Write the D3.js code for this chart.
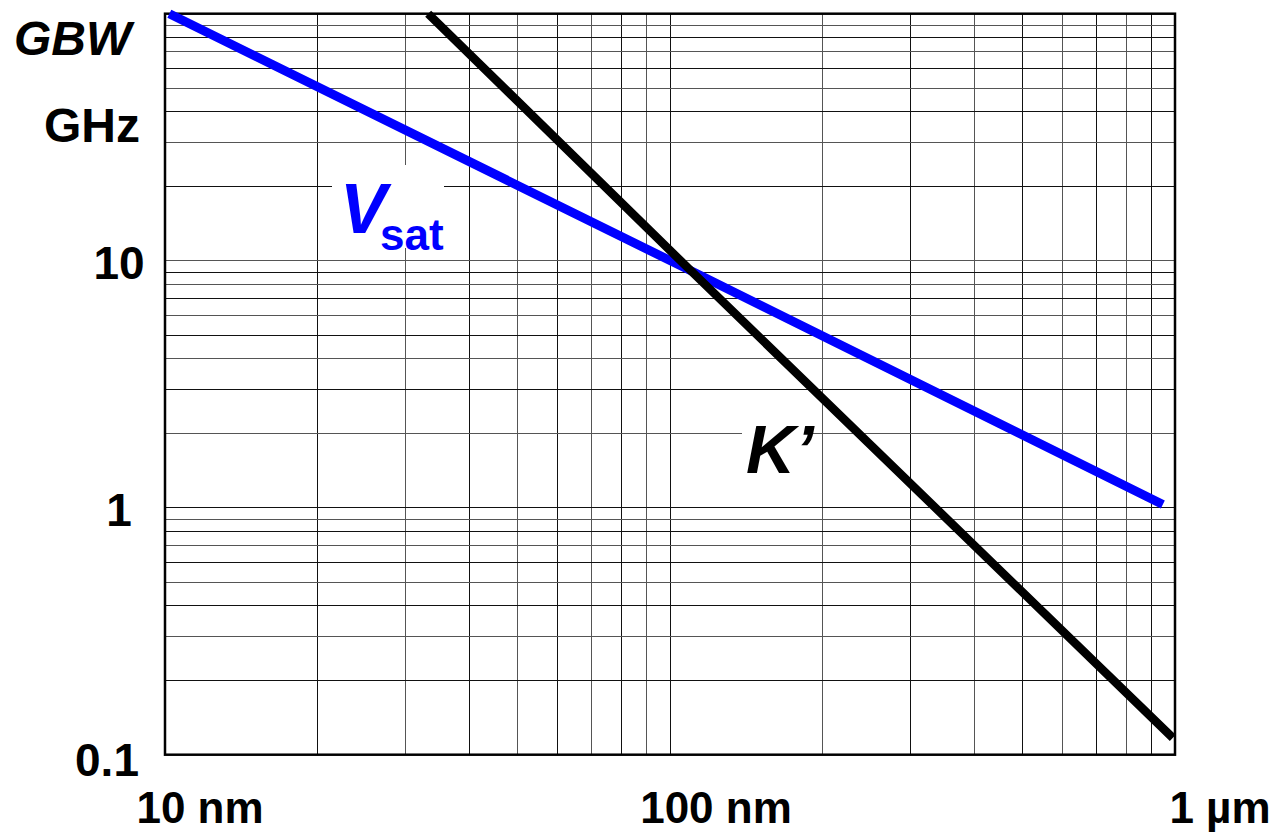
<!DOCTYPE html>
<html>
<head>
<meta charset="utf-8">
<script src="https://cdn.jsdelivr.net/npm/d3@7"></script>
<style>
  html, body { margin: 0; padding: 0; background: #fff; }
  svg { display: block; font-family: "Liberation Sans", Arial, sans-serif; }
</style>
</head>
<body>
<svg id="chart" width="1278" height="833"></svg>
<script>
// Gate length (nm) and gain-bandwidth (GHz) along each limit line
const vsatLength = [10.2, 110, 946];
const vsatGBW    = [100, 9.1, 1.03];
const kLength    = [33.2, 110, 990];
const kGBW       = [100, 9.1, 0.117];

// Axis tick values and their labels
const xTickValues = [10, 100, 1000];
const xTickLabels = ["10 nm", "100 nm", "1 µm"];
const yTickValues = [0.1, 1, 10];
const yTickLabels = ["0.1", "1", "10"];

const svg = d3.select("#chart");
const plot = { left: 165, right: 1175, top: 13.7, bottom: 754.7 };

const x = d3.scaleLog().domain([10, 1000]).range([plot.left, plot.right]);
const y = d3.scaleLog().domain([0.1, 100]).range([plot.bottom, plot.top]);

// Grid: every 1..9 multiple inside each decade
const xGrid = [];
for (let d = 10; d < 1000; d *= 10) for (let m = 1; m <= 9; m++) xGrid.push(d * m);
const yGrid = [];
for (let d = 0.1; d < 99; d *= 10) for (let m = 1; m <= 9; m++) yGrid.push(+(d * m).toPrecision(3));

const grid = svg.append("g").attr("shape-rendering", "crispEdges");
grid.selectAll("line.vx").data(xGrid.slice(1)).join("line")
  .attr("x1", d => x(d)).attr("x2", d => x(d))
  .attr("y1", plot.top).attr("y2", plot.bottom)
  .attr("stroke", (d, i) => i % 2 ? "#555" : "#111").attr("stroke-width", 1);
grid.selectAll("line.hy").data(yGrid.slice(1)).join("line")
  .attr("y1", d => y(d)).attr("y2", d => y(d))
  .attr("x1", plot.left).attr("x2", plot.right)
  .attr("stroke", (d, i) => i % 2 ? "#555" : "#111").attr("stroke-width", 1);

// White backing boxes behind the in-plot labels
svg.append("rect").attr("x", 332).attr("y", 165).attr("width", 112).attr("height", 83).attr("fill", "#fff");
svg.append("rect").attr("x", 742).attr("y", 410).attr("width", 71).attr("height", 72).attr("fill", "#fff");

// Frame
svg.append("rect")
  .attr("x", plot.left).attr("y", plot.top)
  .attr("width", plot.right - plot.left).attr("height", plot.bottom - plot.top)
  .attr("fill", "none").attr("stroke", "#000").attr("stroke-width", 2.5);

// Limit lines
const line = d3.line().x(d => x(d[0])).y(d => y(d[1]));
svg.append("path")
  .attr("d", line(d3.zip(vsatLength, vsatGBW)))
  .attr("fill", "none").attr("stroke", "#0000ff").attr("stroke-width", 9);
svg.append("path")
  .attr("d", line(d3.zip(kLength, kGBW)))
  .attr("fill", "none").attr("stroke", "#000").attr("stroke-width", 8.5);

// Y tick labels
const yNudge = { "0.1": -12, "1": 0, "10": 0 };
svg.selectAll("text.ytick").data(yTickValues).join("text")
  .attr("x", (d, i) => 119 + yNudge[yTickLabels[i]])
  .attr("y", d => y(d) + (d === 0.1 ? 5 : 2))
  .attr("dy", "0.35em")
  .attr("text-anchor", "middle")
  .attr("font-size", 46).attr("font-weight", "bold")
  .text((d, i) => yTickLabels[i]);

// X tick labels
const xNudge = [35, 46, 45];
svg.selectAll("text.xtick").data(xTickValues).join("text")
  .attr("x", (d, i) => x(d) + xNudge[i])
  .attr("y", 823)
  .attr("text-anchor", "middle")
  .attr("font-size", 44).attr("font-weight", "bold")
  .text((d, i) => xTickLabels[i]);

// Axis title and unit
svg.append("text").attr("x", 14).attr("y", 55)
  .attr("font-size", 48).attr("font-weight", "bold").attr("font-style", "italic")
  .text("GBW");
svg.append("text").attr("x", 44).attr("y", 142)
  .attr("font-size", 48).attr("font-weight", "bold")
  .text("GHz");

// Curve labels
const vs = svg.append("text").attr("x", 340).attr("y", 233)
  .attr("fill", "#0000ff").attr("font-weight", "bold");
vs.append("tspan").attr("font-size", 70).attr("font-style", "italic").text("V");
vs.append("tspan").attr("x", 380).attr("y", 250).attr("font-size", 44).text("sat");

svg.append("text").attr("x", 746).attr("y", 473)
  .attr("font-size", 68).attr("font-weight", "bold").attr("font-style", "italic")
  .text("K’");
</script>
</body>
</html>
